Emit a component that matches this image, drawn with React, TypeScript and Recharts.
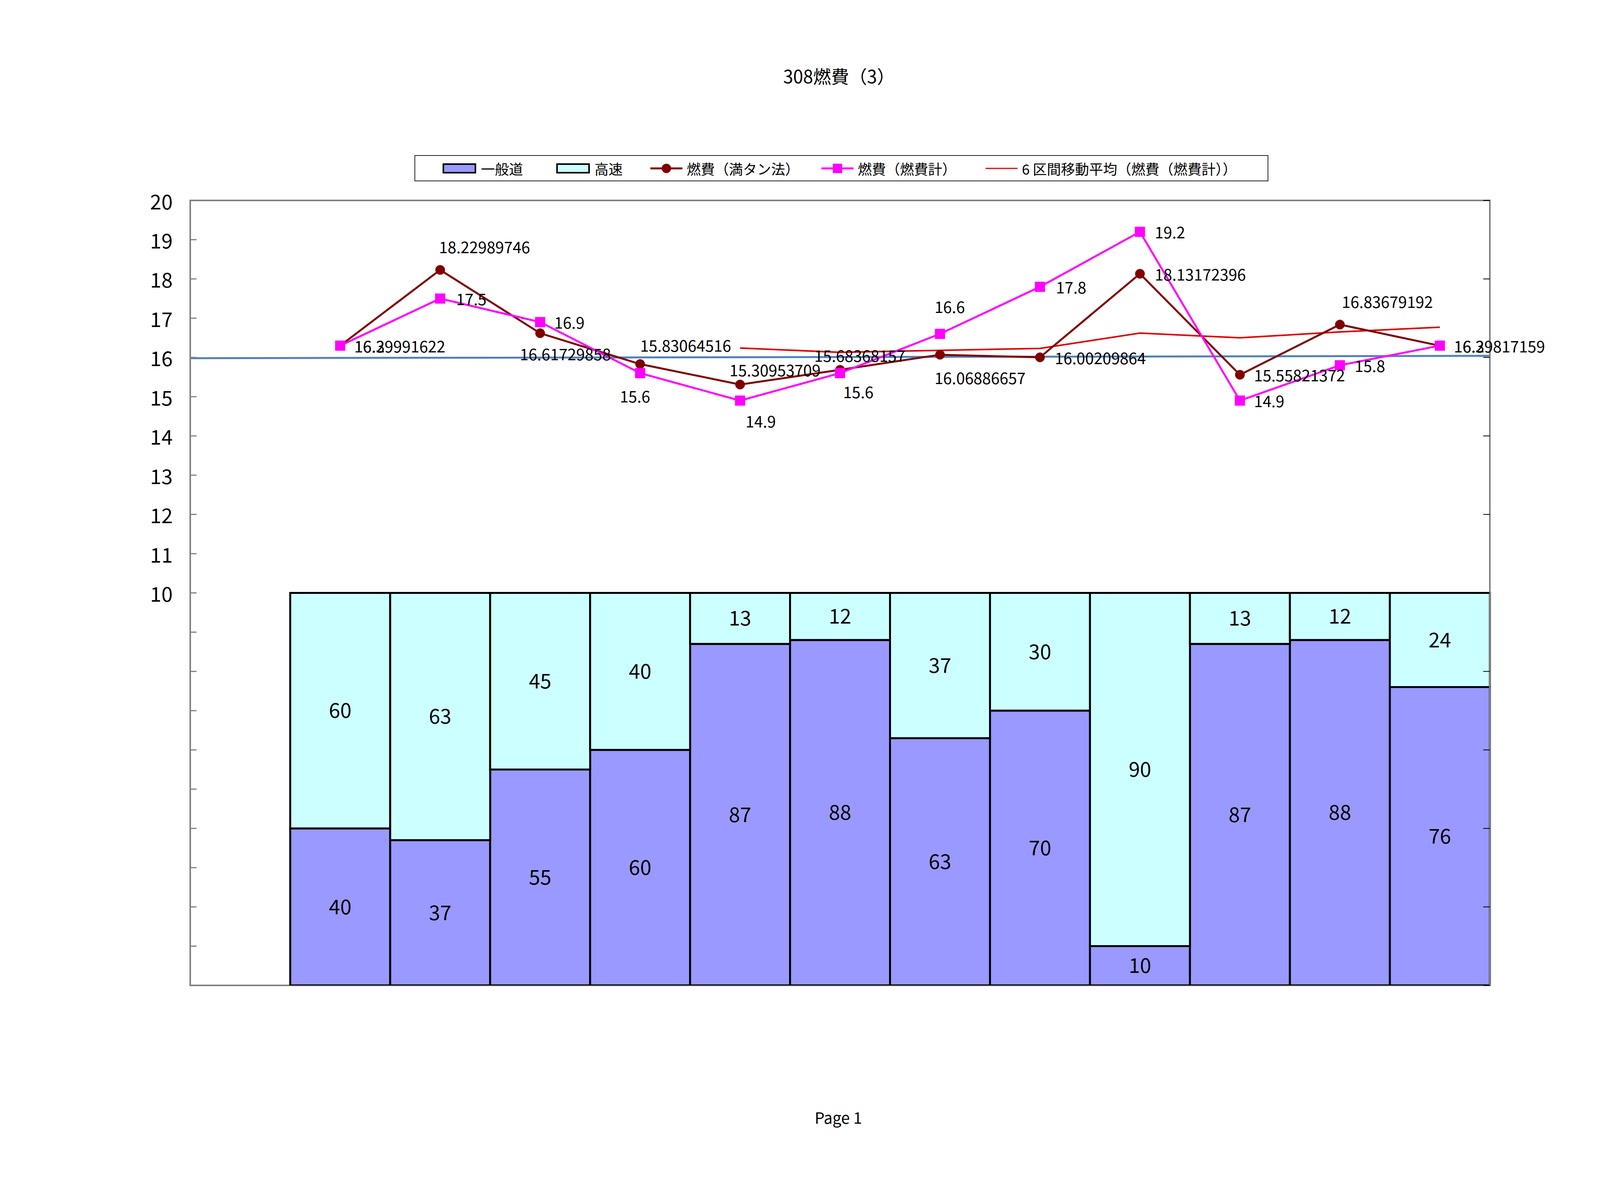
import React from "react";
import {
  Bar,
  ComposedChart,
  LabelList,
  Line,
  ReferenceArea,
  XAxis,
  YAxis,
} from "recharts";

// 13 categories, the first one is an empty slot in the original sheet
const categories = ["", "1", "2", "3", "4", "5", "6", "7", "8", "9", "10", "11", "12"];

// road share (%)
const ippanDo = [null, 40, 37, 55, 60, 87, 88, 63, 70, 10, 87, 88, 76];
const kosoku = [null, 60, 63, 45, 40, 13, 12, 37, 30, 90, 13, 12, 24];

// fuel economy (km/L)
const nenpiMantan = [
  null, 16.29991622, 18.22989746, 16.61729858, 15.83064516, 15.30953709, 15.68368157,
  16.06886657, 16.00209864, 18.13172396, 15.55821372, 16.83679192, 16.29817159,
];
const nenpiMeter = [null, 16.3, 17.5, 16.9, 15.6, 14.9, 15.6, 16.6, 17.8, 19.2, 14.9, 15.8, 16.3];
const movingAvg6 = [null, null, null, null, null, 16.24, 16.13, 16.18, 16.23, 16.62, 16.5, 16.65, 16.77];

// straight blue line across the whole plot (start / end)
const trendX = [0, 1];
const trendY = [15.98, 16.04];

const leftTicks = [0, 1, 2, 3, 4, 5, 6, 7, 8, 9, 10, 11, 12, 13, 14, 15, 16, 17, 18, 19, 20];
const rightTicks = [0, 20, 40, 60, 80, 100, 120, 140, 160, 180, 200];

// label offsets [dx, dy] from each point (text anchored at start)
const mantanLabelPos: Array<[number, number]> = [
  [36, 0], [-3, -60], [-52, 52], [0, -49], [-27, -38], [-66, -38],
  [-14, 58], [38, 0], [38, 0], [36, 0], [5, -60], [36, 0],
];
const meterLabelPos: Array<[number, number]> = [
  [36, 0], [41, 0], [36, 0], [-52, 58], [14, 52], [8, 47],
  [-14, -71], [41, 0], [38, 0], [36, 0], [38, 0], [36, 0],
];

const data = categories.map((cat, i) => ({
  cat,
  ippanDo: ippanDo[i],
  kosoku: kosoku[i],
  mantan: nenpiMantan[i],
  meter: nenpiMeter[i],
  avg: movingAvg6[i],
}));

const trendRows = trendX.map((t, i) => ({ t, v: trendY[i] }));

const FONT = '"Noto Sans CJK JP", "Noto Sans", sans-serif';
const W = 4300;
const H = 3038;

function LeftTick(props: any) {
  const { x, y, payload } = props;
  const axisX = x + 45;
  return (
    <g>
      <line x1={axisX} x2={axisX + 16} y1={y} y2={y} stroke="#808080" strokeWidth={3} />
      {payload.value >= 10 && (
        <text x={x} y={y} textAnchor="end" dominantBaseline="central" fontSize={52} fontFamily={FONT} fill="#000">
          {payload.value}
        </text>
      )}
    </g>
  );
}

function RightTick(props: any) {
  const { x, y } = props;
  return <line x1={x} x2={x - 17} y1={y} y2={y} stroke="#000" strokeWidth={2} />;
}

function makeLineLabel(pos: Array<[number, number]>) {
  return (props: any) => {
    const { value, index } = props;
    const x = props.x ?? props.viewBox?.x;
    const y = props.y ?? props.viewBox?.y;
    if (value == null || x == null || y == null) return null;
    const [dx, dy] = pos[index - 1] ?? [36, 0];
    return (
      <text
        x={x + dx}
        y={y + dy}
        dominantBaseline="central"
        textAnchor="start"
        fontSize={40}
        fontFamily={FONT}
        fill="#000"
      >
        {value}
      </text>
    );
  };
}

function SquareDot(props: any) {
  const { cx, cy, index } = props;
  if (cx == null || cy == null || props.value == null) return <g key={`sq-${index}`} />;
  return <rect key={`sq-${index}`} x={cx - 13} y={cy - 13} width={26} height={26} fill="#FF00FF" />;
}

function LegendBox() {
  const swatch = (color: string) => (
    <span
      style={{
        display: "inline-block",
        width: 78,
        height: 18,
        background: color,
        border: "4px solid #000",
        marginRight: 12,
      }}
    />
  );
  const lineMark = (color: string, marker: "circle" | "square" | "none") => (
    <svg width={82} height={30} style={{ marginRight: 11 }}>
      <line x1={0} x2={82} y1={15} y2={15} stroke={color} strokeWidth={marker === "none" ? 3 : 5} />
      {marker === "circle" && <circle cx={41} cy={15} r={12} fill={color} />}
      {marker === "square" && <rect x={29} y={3} width={24} height={24} fill={color} />}
    </svg>
  );
  const item = (left: number, mark: React.ReactNode, label: string) => (
    <div style={{ position: "absolute", left, top: 0, height: 63, display: "flex", alignItems: "center" }}>
      {mark}
      <span style={{ fontSize: 36, fontFamily: FONT, whiteSpace: "nowrap" }}>{label}</span>
    </div>
  );
  return (
    <div
      style={{
        position: "absolute",
        left: 1061,
        top: 397,
        width: 2182,
        height: 63,
        border: "2px solid #222",
        background: "#fff",
      }}
    >
      {item(70, swatch("#9999FF"), "一般道")}
      {item(361, swatch("#CCFFFF"), "高速")}
      {item(602, lineMark("#800000", "circle"), "燃費（満タン法）")}
      {item(1040, lineMark("#FF00FF", "square"), "燃費（燃費計）")}
      {item(1460, lineMark("#E00000", "none"), "6 区間移動平均（燃費（燃費計））")}
    </div>
  );
}

export default function App() {
  return (
    <div style={{ position: "absolute", left: 0, top: 0, width: W, height: H, background: "#fff" }}>
      <div
        style={{
          position: "absolute",
          left: 0,
          width: W,
          top: 160,
          textAlign: "center",
          fontSize: 46,
          fontFamily: FONT,
        }}
      >
        <span style={{ position: "relative", left: -2 }}>308燃費（3）</span>
      </div>

      <LegendBox />

      <div style={{ position: "absolute", left: 0, top: 0 }}>
        <ComposedChart
          width={W}
          height={H}
          data={data}
          margin={{ top: 513, right: 0, bottom: 516, left: 0 }}
          barCategoryGap={0}
          barGap={0}
        >
          <XAxis xAxisId="main" dataKey="cat" type="category" hide />
          <XAxis xAxisId="trend" dataKey="t" type="number" domain={[0, 1]} allowDataOverflow hide />
          <YAxis
            yAxisId="left"
            orientation="left"
            width={487}
            type="number"
            domain={[0, 20]}
            ticks={leftTicks}
            interval={0}
            allowDataOverflow
            tickSize={0}
            tickMargin={45}
            tickLine={false}
            axisLine={{ stroke: "#808080", strokeWidth: 4 }}
            tick={<LeftTick />}
          />
          <YAxis
            yAxisId="bar"
            orientation="right"
            width={486}
            type="number"
            domain={[0, 200]}
            ticks={rightTicks}
            interval={0}
            allowDataOverflow
            tickSize={0}
            tickMargin={0}
            tickLine={false}
            axisLine={{ stroke: "#808080", strokeWidth: 4 }}
            tick={<RightTick />}
          />
          <ReferenceArea
            xAxisId="main"
            yAxisId="left"
            y1={0}
            y2={20}
            fill="none"
            stroke="#808080"
            strokeWidth={4}
            ifOverflow="visible"
          />
          <Bar
            xAxisId="main"
            yAxisId="bar"
            dataKey="ippanDo"
            stackId="share"
            fill="#9999FF"
            stroke="#000"
            strokeWidth={5}
            isAnimationActive={false}
          >
            <LabelList dataKey="ippanDo" position="center" fontSize={52} fontFamily={FONT} fill="#000" />
          </Bar>
          <Bar
            xAxisId="main"
            yAxisId="bar"
            dataKey="kosoku"
            stackId="share"
            fill="#CCFFFF"
            stroke="#000"
            strokeWidth={5}
            isAnimationActive={false}
          >
            <LabelList dataKey="kosoku" position="center" fontSize={52} fontFamily={FONT} fill="#000" />
          </Bar>
          <Line
            xAxisId="trend"
            yAxisId="left"
            data={trendRows}
            dataKey="v"
            stroke="#4F81BD"
            strokeWidth={5}
            dot={false}
            activeDot={false}
            isAnimationActive={false}
          />
          <Line
            xAxisId="main"
            yAxisId="left"
            dataKey="avg"
            type="linear"
            stroke="#E00000"
            strokeWidth={4}
            dot={false}
            activeDot={false}
            isAnimationActive={false}
          />
          <Line
            xAxisId="main"
            yAxisId="left"
            dataKey="mantan"
            type="linear"
            stroke="#800000"
            strokeWidth={5}
            dot={{ r: 12, fill: "#800000", stroke: "#800000", strokeWidth: 1 }}
            activeDot={false}
            isAnimationActive={false}
          >
            <LabelList dataKey="mantan" content={makeLineLabel(mantanLabelPos)} />
          </Line>
          <Line
            xAxisId="main"
            yAxisId="left"
            dataKey="meter"
            type="linear"
            stroke="#FF00FF"
            strokeWidth={5}
            dot={SquareDot}
            activeDot={false}
            isAnimationActive={false}
          >
            <LabelList dataKey="meter" content={makeLineLabel(meterLabelPos)} />
          </Line>
        </ComposedChart>
      </div>

      <div
        style={{
          position: "absolute",
          left: 0,
          width: W,
          top: 2830,
          textAlign: "center",
          fontSize: 40,
          fontFamily: FONT,
        }}
      >
        <span style={{ position: "relative", left: -4 }}>Page 1</span>
      </div>
    </div>
  );
}
